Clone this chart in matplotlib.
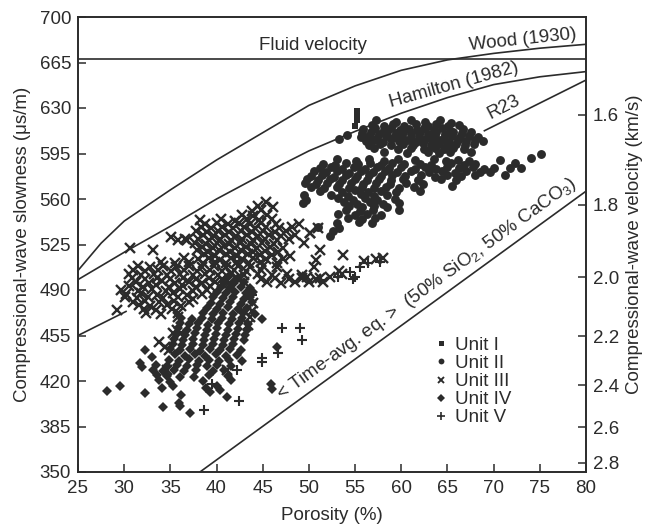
import numpy as np
import matplotlib.pyplot as plt
from matplotlib.lines import Line2D

plt.rcParams['font.family'] = ['Liberation Sans', 'DejaVu Sans']
plt.rcParams['mathtext.fontset'] = 'custom'
plt.rcParams['mathtext.rm'] = 'Liberation Sans'
plt.rcParams['mathtext.it'] = 'Liberation Sans:italic'
plt.rcParams['font.size'] = 13.5

ink = '#2b2b2b'

# reference curves: porosity (%) vs slowness (us/m)
fluid_por = [25, 80]
fluid_slow = [668, 668]
wood_por = [25, 27.5, 30, 35, 40, 45, 50, 55, 60, 65, 70, 75, 80]
wood_slow = [505, 526, 543, 567, 590, 611, 632, 647, 659, 667, 672, 676, 679]
ham_por = [25, 30, 35, 40, 45, 50, 55, 60, 65, 70, 75, 80]
ham_slow = [498, 519, 539, 560, 579, 597, 612, 626, 638, 648, 654, 658]
r23_por = [25, 30.2, np.nan, 69.0, 80]
r23_slow = [455, 473.5, np.nan, 612.5, 651.5]
tavg_por = [38.2, 80]
tavg_slow = [350, 566]

vel_ticks = [1.6, 1.8, 2.0, 2.2, 2.4, 2.6, 2.8]

unit1 = np.array([(55.2, 628), (55.2, 624.5), (55.2, 620.5), (55.0, 616.5)])

unit2 = np.array([
    (57.3, 621), (59.4, 619.5), (61.1, 620.5), (62.6, 619), (64.2, 621), (65.4, 618.7),
    (56.8, 617), (58.1, 616), (59.1, 617.5), (60.3, 616.5), (61.6, 617.8), (62.9, 616.2),
    (63.8, 617.4), (65.1, 615.8), (66.3, 616.8),
    (55.9, 613.5), (57.2, 614.6), (58.1, 613), (58.9, 614.8), (59.9, 613.4), (60.8, 614.2),
    (61.7, 612.9), (62.5, 614.7), (63.5, 613.1), (64.4, 614.4), (65.3, 612.6), (66.7, 613.8),
    (55.8, 610.5), (56.7, 611.6), (57.6, 610.2), (58.5, 611.9), (59.4, 610.6), (60.2, 611.4),
    (61.1, 610.1), (62.0, 611.7), (62.9, 610.3), (63.8, 611.5), (64.7, 610), (65.6, 611.2),
    (66.6, 610.4), (67.5, 611.3),
    (55.6, 607.5), (56.5, 608.6), (57.4, 607.2), (58.3, 608.8), (59.2, 607.4), (60.1, 608.3),
    (61.0, 607), (61.9, 608.5), (62.8, 607.3), (63.7, 608.7), (64.6, 607.1), (65.5, 608.4),
    (66.4, 607.5), (67.3, 608.6), (68.3, 607.6),
    (56.2, 604.6), (57.1, 605.5), (58.0, 604.2), (58.9, 605.8), (59.8, 604.4), (60.7, 605.3),
    (61.6, 604), (62.5, 605.6), (63.4, 604.3), (64.3, 605.4), (65.2, 604.1), (66.1, 605.7),
    (67.0, 604.5), (68.0, 605.2), (68.8, 604.8),
    (56.5, 601.8), (57.7, 602.6), (58.9, 601.3), (60.2, 602.4), (61.3, 601.5), (62.3, 602.7),
    (63.2, 601.2), (64.1, 602.5), (65.0, 601.4), (65.9, 602.6), (66.9, 601.6), (67.9, 602.2),
    (57.1, 599), (59.6, 598.6), (61.1, 599.4), (62.5, 598.4), (63.6, 599.5), (64.6, 598.7),
    (65.6, 599.2), (66.8, 598.5),
    (58.1, 596), (60.6, 595.5), (62.9, 596.3), (64.1, 595.6), (65.3, 596.4), (67.6, 595.8),
    (54.1, 609), (53.3, 606),
    (53.0, 590.4), (55.1, 589.6), (56.5, 590.8), (58.1, 589.5), (59.6, 590.6), (61.5, 589.8),
    (63.5, 590.5), (64.8, 589.4), (66.1, 590.2), (67.3, 589.6), (70.7, 590),
    (51.5, 587.3), (52.8, 586.5), (54.0, 587.6), (55.3, 586.7), (56.6, 587.4), (57.8, 586.4),
    (59.0, 587.5), (60.3, 586.6), (62.0, 587.2), (63.2, 586.3), (65.4, 587.4), (66.8, 586.5),
    (68.0, 587.1),
    (51.2, 583.6), (52.4, 584.6), (53.6, 583.4), (54.9, 584.5), (56.1, 583.3), (57.4, 584.7),
    (58.7, 583.5), (60.0, 584.4), (61.5, 583.2), (62.6, 584.6), (63.8, 583.4), (64.9, 584.3),
    (66.2, 583.6), (67.8, 584.8), (69.0, 583.2), (70.0, 584.2), (71.8, 584),
    (50.5, 581.4), (51.8, 580.5), (53.0, 581.6), (54.3, 580.3), (55.6, 581.2), (56.9, 580.6),
    (58.2, 581.5), (59.5, 580.4), (61.0, 581.3), (63.0, 580.6), (64.4, 581.5), (65.8, 580.3),
    (67.0, 581.2), (68.5, 580.5), (69.6, 581),
    (50.2, 577.6), (51.4, 578.5), (52.7, 577.3), (54.0, 578.4), (55.2, 577.5), (56.5, 578.6),
    (57.8, 577.4), (59.0, 578.3), (60.4, 577.6), (62.1, 578.5), (63.6, 577.2), (65.0, 578.3),
    (66.5, 577.7), (68.0, 578.4), (71.2, 578.2),
    (49.8, 575.4), (51.0, 574.5), (52.3, 575.6), (53.6, 574.4), (55.0, 575.3), (56.3, 574.6),
    (57.6, 575.5), (58.9, 574.3), (60.2, 575.2), (61.8, 574.6), (64.3, 575.4), (65.9, 574.5),
    (49.6, 572.2), (50.8, 571.4), (52.0, 572.5), (53.3, 571.3), (54.6, 572.4), (55.9, 571.6),
    (57.3, 572.3), (58.8, 571.2), (60.5, 572.1), (62.3, 571.5), (65.5, 570),
    (50.2, 569.3), (51.6, 568.4), (53.0, 569.5), (54.3, 568.6), (55.7, 569.2), (57.0, 568.3),
    (58.4, 569.4), (59.8, 568.5), (61.4, 569.1),
    (51.2, 566.3), (53.6, 565.5), (55.0, 566.6), (56.4, 565.4), (57.8, 566.2), (59.4, 565.6),
    (62.0, 566.1),
    (49.5, 562.8), (52.4, 563.4), (54.2, 562.6), (55.6, 563.5), (57.0, 562.4), (58.5, 563.3),
    (49.7, 559.6), (53.2, 560.4), (54.8, 559.5), (56.1, 560.6), (57.4, 559.4), (59.3, 560.2),
    (49.4, 556.7), (53.8, 557.4), (55.2, 556.5), (56.6, 557.6), (58.0, 556.4), (59.8, 557.2),
    (54.3, 554.3), (55.7, 553.5), (57.1, 554.5), (58.5, 553.6),
    (54.0, 551.2), (55.5, 550.4), (56.9, 551.5), (59.7, 551.5),
    (53.1, 548.2), (55.0, 547.5), (56.3, 548.6), (57.8, 547.6),
    (54.2, 545.3), (55.8, 544.5), (57.2, 545.4),
    (53.0, 541.8), (55.4, 542.6), (56.8, 541.5),
    (51.0, 538.7), (53.3, 538), (52.6, 535.5), (52.3, 531.3),
    (74.0, 591.5), (75.1, 594.5), (72.3, 588), (73.0, 583.5),
])

unit3 = np.array([
    (45.4, 557.5), (46.1, 554), (44.5, 554.5), (43.8, 550.5), (44.8, 551.5),
    (42.8, 547.5), (44.0, 546.6), (45.5, 547.8),
    (38.2, 543.5), (40.5, 544.6), (42.0, 543.4), (43.3, 544.8), (44.6, 543.6), (46.0, 544.5),
    (38.8, 540.6), (40.0, 541.5), (41.2, 540.4), (42.4, 541.7), (43.6, 540.5), (44.8, 541.4),
    (46.4, 540.6), (48.9, 541),
    (38.3, 538.4), (39.4, 537.5), (40.6, 538.6), (41.8, 537.4), (43.0, 538.5), (44.2, 537.6),
    (45.4, 538.3), (46.8, 537.5), (48.2, 538.4),
    (37.8, 535.3), (39.0, 534.5), (40.2, 535.6), (41.4, 534.4), (42.6, 535.5), (43.8, 534.6),
    (45.0, 535.4), (46.3, 534.5), (47.5, 535.3), (50.1, 533.6),
    (38.5, 532.4), (39.7, 531.5), (40.9, 532.6), (42.1, 531.4), (43.3, 532.5), (44.5, 531.6),
    (45.7, 532.3), (47.0, 531.5), (48.5, 532.2), (51.0, 537.5),
    (36.8, 528.5), (38.0, 529.4), (39.2, 528.6), (40.4, 529.5), (41.6, 528.4), (42.8, 529.6),
    (44.0, 528.5), (45.2, 529.3), (46.5, 528.4), (47.8, 529.5),
    (37.7, 526), (38.9, 525.4), (40.1, 526.5), (41.3, 525.5), (42.5, 526.4), (43.7, 525.6),
    (44.9, 526.3), (46.2, 525.5), (49.5, 526),
    (38.4, 523.3), (39.6, 522.5), (40.8, 523.5), (42.0, 522.4), (43.2, 523.4), (44.4, 522.6),
    (45.8, 523.2), (47.2, 522.5),
    (33.1, 520.8), (37.9, 520.4), (39.1, 519.5), (40.3, 520.6), (41.5, 519.4), (42.7, 520.5),
    (43.9, 519.6), (45.2, 520.3), (46.6, 519.5), (51.2, 520.8),
    (38.6, 517.4), (39.8, 516.5), (41.0, 517.6), (42.2, 516.4), (43.4, 517.5), (44.7, 516.6),
    (46.0, 517.3), (48.0, 516.5), (53.7, 517),
    (36.5, 514.4), (38.0, 513.5), (39.2, 514.6), (40.4, 513.4), (41.6, 514.5), (42.8, 513.6),
    (44.0, 514.3), (45.4, 513.5), (47.2, 514.2), (50.8, 513),
    (34.0, 511.3), (35.5, 510.5), (37.0, 511.6), (38.5, 510.4), (39.8, 511.5), (41.0, 510.6),
    (42.2, 511.4), (43.5, 510.5), (44.8, 511.2), (46.5, 510.6),
    (31.5, 508.4), (32.8, 507.5), (34.2, 508.6), (35.6, 507.4), (37.0, 508.5), (38.4, 507.6),
    (39.7, 508.3), (41.0, 507.5), (42.3, 508.4), (43.6, 507.6), (45.0, 508.2), (46.5, 507.5),
    (50.5, 508),
    (31.0, 505.3), (32.3, 504.5), (33.7, 505.6), (35.1, 504.4), (36.5, 505.5), (37.9, 504.6),
    (39.3, 505.4), (40.6, 504.5), (41.9, 505.3), (43.2, 504.6), (44.8, 505.2), (53.3, 505),
    (30.5, 502.4), (31.8, 501.5), (33.2, 502.6), (34.6, 501.4), (36.0, 502.5), (37.4, 501.6),
    (38.8, 502.3), (40.2, 501.5), (41.6, 502.4), (43.0, 501.6), (44.5, 502.2), (46.0, 501.5),
    (47.6, 502.3), (49.2, 501.6), (53.6, 502),
    (30.8, 499.3), (32.2, 498.5), (33.6, 499.6), (35.0, 498.4), (36.4, 499.5), (37.8, 498.6),
    (39.2, 499.4), (40.6, 498.5), (42.2, 499.3), (44.8, 498.6), (46.3, 499.4), (47.8, 498.5),
    (49.3, 499.2), (50.8, 498.6), (52.3, 500),
    (31.3, 496.4), (32.7, 495.5), (34.1, 496.6), (35.5, 495.4), (37.0, 496.5), (38.4, 495.6),
    (39.8, 496.3), (41.3, 495.5), (43.0, 496.4), (45.5, 496.5), (47.0, 495.6), (48.5, 496.3),
    (50.0, 495.8), (51.5, 496.4),
    (30.5, 493.3), (32.0, 492.5), (33.4, 493.6), (34.8, 492.4), (36.3, 493.5), (37.8, 492.6),
    (39.3, 493.4),
    (29.7, 490), (31.5, 489.5), (33.0, 490.6), (34.5, 489.4), (36.0, 490.5), (37.5, 489.6),
    (39.0, 490.3),
    (30.2, 486.6), (31.8, 487.4), (33.6, 486.5), (35.3, 487.5), (36.8, 486.4), (38.4, 487.3),
    (30.1, 484.8), (31.4, 483.5), (32.6, 484.4), (34.2, 483.6), (35.8, 484.5), (37.4, 483.4),
    (31.0, 480.6), (32.2, 481.4), (33.8, 480.5), (35.4, 481.5), (37.0, 480.4),
    (31.6, 478.3), (32.8, 477.5), (34.6, 478.4), (36.2, 477.6),
    (29.2, 474.6), (32.1, 475.4), (33.4, 474.5), (35.2, 475.3),
    (32.4, 472), (34.0, 471.5), (35.8, 472.4), (35.8, 469.5), (43.6, 469),
    (33.8, 450), (34.4, 446), (34.8, 443.8), (35.3, 456.7), (35.7, 459), (36.2, 457),
    (34.6, 428.5), (43.4, 463), (41.1, 428.5), (43.8, 474), (44.0, 480),
    (30.6, 522), (35.1, 531), (35.8, 528.5), (36.6, 529.2),
    (49.8, 500), (51.2, 499), (50.1, 533.6), (56.0, 512.5), (57.3, 514), (58.0, 514.5),
])

unit4 = np.array([
    (41.2, 500), (42.3, 499.5),
    (40.8, 496.3), (41.9, 495.6), (43.0, 496.4),
    (40.5, 492.4), (41.5, 491.5), (42.6, 492.6), (43.6, 491.6),
    (40.0, 488.3), (41.0, 487.5), (42.0, 488.5), (43.2, 487.6), (44.0, 488.2),
    (39.6, 484.4), (40.7, 483.5), (41.8, 484.6), (43.0, 483.4), (43.6, 484.3),
    (39.4, 480.3), (40.4, 479.5), (41.5, 480.6), (42.6, 479.4), (43.8, 480.5),
    (39.0, 476.4), (40.1, 475.5), (41.2, 476.6), (42.3, 475.4), (43.3, 476.3),
    (38.5, 472.3), (39.6, 471.5), (40.7, 472.6), (41.8, 471.4), (42.9, 472.5), (44.2, 471.6),
    (36.2, 468.4), (37.3, 467.5), (38.4, 468.6), (39.5, 467.4), (40.6, 468.5), (41.7, 467.6),
    (42.8, 468.3), (44.9, 468),
    (36.0, 464.3), (37.0, 463.5), (38.0, 464.6), (39.1, 463.4), (40.2, 464.5), (41.3, 463.6),
    (42.4, 464.3), (43.4, 463.5),
    (35.8, 460.4), (36.8, 459.5), (37.9, 460.6), (39.0, 459.4), (40.1, 460.5), (41.2, 459.6),
    (42.3, 460.3), (43.3, 459.5),
    (35.6, 456.3), (36.6, 455.5), (37.7, 456.6), (38.8, 455.4), (39.9, 456.5), (41.0, 455.6),
    (42.1, 456.3), (43.1, 455.5),
    (35.4, 452.4), (36.4, 451.5), (37.5, 452.6), (38.6, 451.4), (39.7, 452.5), (40.8, 451.6),
    (41.9, 452.3), (43.0, 451.5),
    (35.3, 448.3), (36.3, 447.5), (37.4, 448.6), (38.5, 447.4), (39.6, 448.5), (40.7, 447.6),
    (41.8, 448.3), (46.5, 446.5),
    (32.3, 444), (35.0, 444.4), (36.0, 443.5), (37.1, 444.6), (38.2, 443.4), (39.3, 444.5),
    (40.4, 443.6), (41.5, 444.3), (42.6, 443.5),
    (33.0, 438.7), (35.5, 440.4), (36.6, 439.5), (37.7, 440.6), (38.8, 439.4), (39.9, 440.5),
    (41.0, 439.6), (42.2, 440.3),
    (34.8, 436.3), (35.9, 435.5), (37.0, 436.6), (38.1, 435.4), (39.2, 436.5), (40.3, 435.6),
    (41.4, 436.3), (42.8, 435.5),
    (31.7, 433.6), (33.4, 432.4), (34.6, 431.5), (35.7, 432.6), (36.8, 431.4), (37.9, 432.5),
    (39.0, 431.6), (40.1, 432.3), (41.6, 431.5),
    (31.9, 431), (33.1, 428.4), (34.2, 427.5), (35.4, 428.6), (36.5, 427.4), (37.8, 428.5),
    (39.6, 427.6), (40.8, 428.3),
    (33.5, 424.4), (34.6, 423.5), (36.0, 423), (37.6, 423.4), (39.2, 424.3), (41.2, 423.6),
    (33.8, 420.4), (35.0, 419.5), (38.5, 420.3), (41.6, 420.8), (45.9, 418),
    (34.1, 414.4), (35.3, 416.5), (38.9, 414.4), (40.0, 416.3), (46.0, 414),
    (28.1, 412.5), (29.5, 416.4), (39.3, 411.8), (40.4, 413),
    (32.3, 410.5), (36.2, 409),
    (41.1, 408), (35.9, 402.8), (34.2, 399.8), (36.0, 400.8), (37.1, 395.6),
])

unit5 = np.array([
    (47.1, 460.5), (49.0, 460.5), (49.2, 451.5), (44.9, 437.5), (44.9, 434.8),
    (46.7, 441.3), (42.2, 428.5), (39.5, 418), (42.4, 405), (38.6, 397.7),
    (43.8, 486), (51.2, 497.5), (53.2, 500), (54.5, 503.5), (55.0, 500),
    (55.5, 508), (56.4, 510.5), (57.7, 511.8), (54.8, 498.5),
])

# name, points, marker, size, edge width, legend size
units = [
    ('Unit I', unit1, 's', 4.4, 0, 3.6),
    ('Unit II', unit2, 'o', 6.4, 0, 4.2),
    ('Unit III', unit3, 'x', 6.6, 1.7, 4.6),
    ('Unit IV', unit4, 'D', 5.0, 0, 3.6),
    ('Unit V', unit5, '+', 7.4, 1.5, 6.0),
]

fig = plt.figure(figsize=(6.46, 5.25), dpi=100)
ax = fig.add_axes([78 / 646, 53 / 525, 508 / 646, 455 / 525])

curve_kw = dict(color=ink, lw=1.2, zorder=2)
ax.plot(fluid_por, fluid_slow, **curve_kw)
ax.plot(wood_por, wood_slow, **curve_kw)
ax.plot(ham_por, ham_slow, **curve_kw)
ax.plot(r23_por, r23_slow, **curve_kw)
ax.plot(tavg_por, tavg_slow, **curve_kw)

for name, pts, mk, ms, mew, lms in units:
    ax.plot(pts[:, 0], pts[:, 1], ls='none', marker=mk, ms=ms, mew=mew,
            color=ink, mec=ink, zorder=3)

ax.text(50.4, 678, 'Fluid velocity', ha='center', va='center', color=ink)
ax.text(73.2, 682, 'Wood (1930)', ha='center', va='center', rotation=6,
        rotation_mode='anchor', color=ink)
ax.text(65.7, 647.5, 'Hamilton (1982)', ha='center', va='center', rotation=15.5,
        rotation_mode='anchor', color=ink)
ax.text(71.1, 631, 'R23', ha='center', va='center', rotation=27,
        rotation_mode='anchor', color=ink)
ax.text(62.8, 491, r'< Time-avg. eq. >  (50% SiO$_2$, 50% CaCO$_3$)',
        ha='center', va='center', rotation=36, rotation_mode='anchor', color=ink)

handles = [Line2D([], [], ls='none', marker=mk, ms=lms, mew=mew * 0.8, color=ink)
           for name, pts, mk, ms, mew, lms in units]
ax.legend(handles, [u[0] for u in units], loc='upper left',
          bbox_to_anchor=(0.704, 0.297), frameon=False, handlelength=0.6,
          handletextpad=0.45, borderpad=0, borderaxespad=0, labelspacing=0.05,
          labelcolor=ink)

ax.set_xlim(25, 80)
ax.set_ylim(350, 700)
ax.set_xticks(np.arange(25, 81, 5))
ax.set_yticks(np.arange(350, 701, 35))
ax.tick_params(direction='in', length=6, width=1.1, colors=ink, pad=5)
ax.tick_params(axis='x', pad=6)
for sp in ax.spines.values():
    sp.set_linewidth(1.4)
    sp.set_color(ink)

ax2 = ax.twinx()
ax2.set_ylim(350, 700)
ax2.set_yticks([1000 / v for v in vel_ticks])
ax2.set_yticklabels(['%.1f' % v for v in vel_ticks])
ax2.tick_params(direction='in', length=6, width=1.1, colors=ink, pad=5)
for sp in ax2.spines.values():
    sp.set_visible(False)

ax.set_xlabel('Porosity (%)', color=ink, labelpad=7)
ax.set_ylabel('Compressional-wave slowness (μs/m)', color=ink, labelpad=6)
ax2.set_ylabel('Compressional-wave velocity (km/s)', color=ink, labelpad=5)

fig.savefig('out.png', dpi=100)
